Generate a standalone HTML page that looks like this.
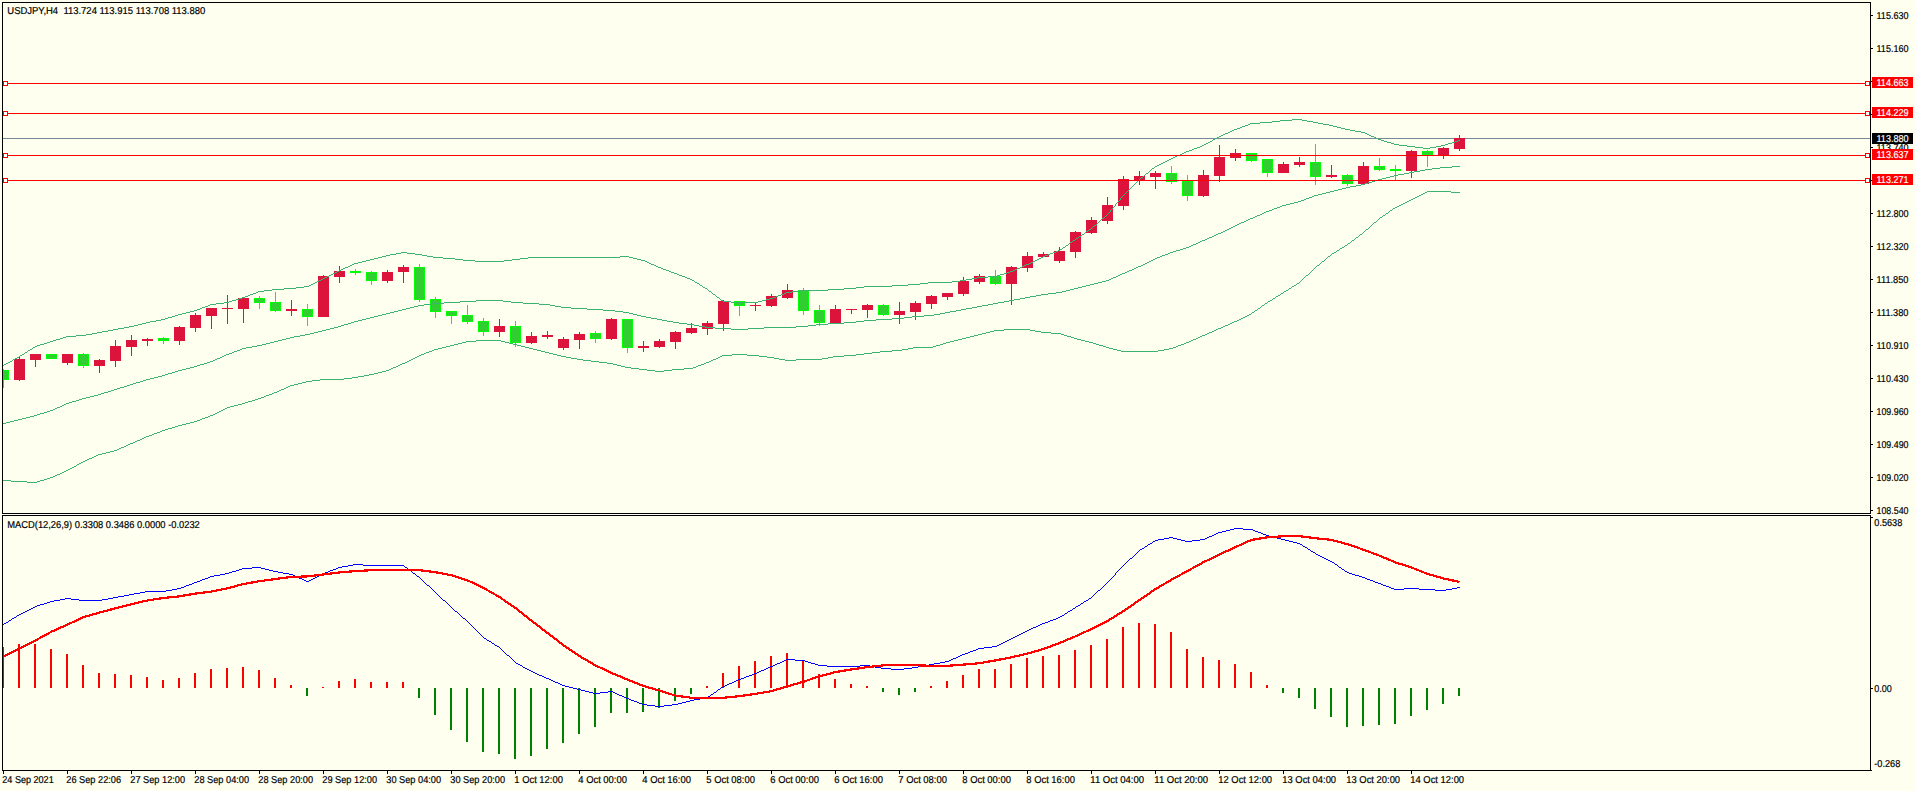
<!DOCTYPE html><html><head><meta charset="utf-8"><title>USDJPY,H4</title>
<style>html,body{margin:0;padding:0;background:#FFFFF0;overflow:hidden}body{width:1916px;height:791px;position:relative;font-family:"Liberation Sans",sans-serif}svg{position:absolute;left:0;top:0;display:block}text{font-family:"Liberation Sans",sans-serif;font-size:10px;fill:#000;text-rendering:geometricPrecision;stroke:#000;stroke-width:0.2px}.w{fill:#fff;stroke:#fff}</style></head><body>
<svg width="1916" height="791" viewBox="0 0 1916 791">
<rect width="1916" height="791" fill="#FFFFF0"/>
<g shape-rendering="crispEdges">
<rect x="3" y="138" width="1867" height="1" fill="#778899"/>
<g id="candles">
<rect x="3" y="369" width="1" height="19" fill="#00FF00"/>
<rect x="-2" y="370" width="11" height="10" fill="#00FF00"/>
<rect x="-1" y="371" width="9" height="8" fill="#32CD32"/>
<rect x="19" y="357" width="1" height="24" fill="#DC143C"/>
<rect x="14" y="359" width="11" height="21" fill="#DC143C"/>
<rect x="35" y="354" width="1" height="13" fill="#DC143C"/>
<rect x="30" y="354" width="11" height="6" fill="#DC143C"/>
<rect x="51" y="354" width="1" height="5" fill="#00FF00"/>
<rect x="46" y="354" width="11" height="5" fill="#00FF00"/>
<rect x="47" y="355" width="9" height="3" fill="#32CD32"/>
<rect x="67" y="354" width="1" height="11" fill="#DC143C"/>
<rect x="62" y="354" width="11" height="9" fill="#DC143C"/>
<rect x="83" y="353" width="1" height="15" fill="#00FF00"/>
<rect x="78" y="354" width="11" height="12" fill="#00FF00"/>
<rect x="79" y="355" width="9" height="10" fill="#32CD32"/>
<rect x="99" y="359" width="1" height="14" fill="#DC143C"/>
<rect x="94" y="360" width="11" height="6" fill="#DC143C"/>
<rect x="115" y="340" width="1" height="27" fill="#DC143C"/>
<rect x="110" y="346" width="11" height="15" fill="#DC143C"/>
<rect x="131" y="335" width="1" height="21" fill="#DC143C"/>
<rect x="126" y="340" width="11" height="7" fill="#DC143C"/>
<rect x="147" y="338" width="1" height="8" fill="#DC143C"/>
<rect x="142" y="339" width="11" height="2" fill="#DC143C"/>
<rect x="163" y="337" width="1" height="7" fill="#00FF00"/>
<rect x="158" y="338" width="11" height="3" fill="#00FF00"/>
<rect x="159" y="339" width="9" height="1" fill="#32CD32"/>
<rect x="179" y="326" width="1" height="19" fill="#DC143C"/>
<rect x="174" y="327" width="11" height="14" fill="#DC143C"/>
<rect x="195" y="313" width="1" height="19" fill="#DC143C"/>
<rect x="190" y="315" width="11" height="13" fill="#DC143C"/>
<rect x="211" y="308" width="1" height="21" fill="#DC143C"/>
<rect x="206" y="308" width="11" height="8" fill="#DC143C"/>
<rect x="227" y="295" width="1" height="29" fill="#DC143C"/>
<rect x="222" y="308" width="11" height="1" fill="#DC143C"/>
<rect x="243" y="298" width="1" height="25" fill="#DC143C"/>
<rect x="238" y="298" width="11" height="11" fill="#DC143C"/>
<rect x="259" y="296" width="1" height="13" fill="#00FF00"/>
<rect x="254" y="298" width="11" height="5" fill="#00FF00"/>
<rect x="255" y="299" width="9" height="3" fill="#32CD32"/>
<rect x="275" y="292" width="1" height="20" fill="#00FF00"/>
<rect x="270" y="302" width="11" height="9" fill="#00FF00"/>
<rect x="271" y="303" width="9" height="7" fill="#32CD32"/>
<rect x="291" y="300" width="1" height="16" fill="#DC143C"/>
<rect x="286" y="309" width="11" height="2" fill="#DC143C"/>
<rect x="307" y="304" width="1" height="22" fill="#00FF00"/>
<rect x="302" y="309" width="11" height="8" fill="#00FF00"/>
<rect x="303" y="310" width="9" height="6" fill="#32CD32"/>
<rect x="323" y="275" width="1" height="42" fill="#DC143C"/>
<rect x="318" y="276" width="11" height="41" fill="#DC143C"/>
<rect x="339" y="266" width="1" height="17" fill="#DC143C"/>
<rect x="334" y="271" width="11" height="6" fill="#DC143C"/>
<rect x="355" y="269" width="1" height="6" fill="#00FF00"/>
<rect x="350" y="271" width="11" height="2" fill="#00FF00"/>
<rect x="371" y="271" width="1" height="14" fill="#00FF00"/>
<rect x="366" y="272" width="11" height="9" fill="#00FF00"/>
<rect x="367" y="273" width="9" height="7" fill="#32CD32"/>
<rect x="387" y="270" width="1" height="13" fill="#DC143C"/>
<rect x="382" y="272" width="11" height="9" fill="#DC143C"/>
<rect x="403" y="265" width="1" height="18" fill="#DC143C"/>
<rect x="398" y="267" width="11" height="5" fill="#DC143C"/>
<rect x="419" y="264" width="1" height="38" fill="#00FF00"/>
<rect x="414" y="267" width="11" height="33" fill="#00FF00"/>
<rect x="415" y="268" width="9" height="31" fill="#32CD32"/>
<rect x="435" y="297" width="1" height="21" fill="#00FF00"/>
<rect x="430" y="299" width="11" height="13" fill="#00FF00"/>
<rect x="431" y="300" width="9" height="11" fill="#32CD32"/>
<rect x="451" y="311" width="1" height="13" fill="#00FF00"/>
<rect x="446" y="311" width="11" height="5" fill="#00FF00"/>
<rect x="447" y="312" width="9" height="3" fill="#32CD32"/>
<rect x="467" y="305" width="1" height="19" fill="#00FF00"/>
<rect x="462" y="315" width="11" height="7" fill="#00FF00"/>
<rect x="463" y="316" width="9" height="5" fill="#32CD32"/>
<rect x="483" y="318" width="1" height="18" fill="#00FF00"/>
<rect x="478" y="321" width="11" height="11" fill="#00FF00"/>
<rect x="479" y="322" width="9" height="9" fill="#32CD32"/>
<rect x="499" y="319" width="1" height="18" fill="#DC143C"/>
<rect x="494" y="326" width="11" height="6" fill="#DC143C"/>
<rect x="515" y="321" width="1" height="26" fill="#00FF00"/>
<rect x="510" y="326" width="11" height="17" fill="#00FF00"/>
<rect x="511" y="327" width="9" height="15" fill="#32CD32"/>
<rect x="531" y="332" width="1" height="12" fill="#DC143C"/>
<rect x="526" y="336" width="11" height="7" fill="#DC143C"/>
<rect x="547" y="331" width="1" height="8" fill="#DC143C"/>
<rect x="542" y="335" width="11" height="2" fill="#DC143C"/>
<rect x="563" y="337" width="1" height="13" fill="#DC143C"/>
<rect x="558" y="339" width="11" height="9" fill="#DC143C"/>
<rect x="579" y="332" width="1" height="17" fill="#DC143C"/>
<rect x="574" y="334" width="11" height="6" fill="#DC143C"/>
<rect x="595" y="331" width="1" height="12" fill="#00FF00"/>
<rect x="590" y="333" width="11" height="6" fill="#00FF00"/>
<rect x="591" y="334" width="9" height="4" fill="#32CD32"/>
<rect x="611" y="318" width="1" height="22" fill="#DC143C"/>
<rect x="606" y="319" width="11" height="20" fill="#DC143C"/>
<rect x="627" y="319" width="1" height="34" fill="#00FF00"/>
<rect x="622" y="319" width="11" height="29" fill="#00FF00"/>
<rect x="623" y="320" width="9" height="27" fill="#32CD32"/>
<rect x="643" y="341" width="1" height="11" fill="#DC143C"/>
<rect x="638" y="346" width="11" height="2" fill="#DC143C"/>
<rect x="659" y="339" width="1" height="9" fill="#DC143C"/>
<rect x="654" y="341" width="11" height="6" fill="#DC143C"/>
<rect x="675" y="331" width="1" height="18" fill="#DC143C"/>
<rect x="670" y="332" width="11" height="10" fill="#DC143C"/>
<rect x="691" y="323" width="1" height="11" fill="#DC143C"/>
<rect x="686" y="328" width="11" height="5" fill="#DC143C"/>
<rect x="707" y="321" width="1" height="14" fill="#DC143C"/>
<rect x="702" y="323" width="11" height="6" fill="#DC143C"/>
<rect x="723" y="300" width="1" height="31" fill="#DC143C"/>
<rect x="718" y="301" width="11" height="23" fill="#DC143C"/>
<rect x="739" y="301" width="1" height="15" fill="#00FF00"/>
<rect x="734" y="301" width="11" height="5" fill="#00FF00"/>
<rect x="735" y="302" width="9" height="3" fill="#32CD32"/>
<rect x="755" y="303" width="1" height="8" fill="#DC143C"/>
<rect x="750" y="305" width="11" height="1" fill="#DC143C"/>
<rect x="771" y="294" width="1" height="13" fill="#DC143C"/>
<rect x="766" y="296" width="11" height="10" fill="#DC143C"/>
<rect x="787" y="284" width="1" height="15" fill="#DC143C"/>
<rect x="782" y="290" width="11" height="8" fill="#DC143C"/>
<rect x="803" y="288" width="1" height="27" fill="#00FF00"/>
<rect x="798" y="290" width="11" height="21" fill="#00FF00"/>
<rect x="799" y="291" width="9" height="19" fill="#32CD32"/>
<rect x="819" y="305" width="1" height="21" fill="#00FF00"/>
<rect x="814" y="310" width="11" height="13" fill="#00FF00"/>
<rect x="815" y="311" width="9" height="11" fill="#32CD32"/>
<rect x="835" y="305" width="1" height="18" fill="#DC143C"/>
<rect x="830" y="309" width="11" height="14" fill="#DC143C"/>
<rect x="851" y="309" width="1" height="5" fill="#DC143C"/>
<rect x="846" y="309" width="11" height="1" fill="#DC143C"/>
<rect x="867" y="304" width="1" height="14" fill="#DC143C"/>
<rect x="862" y="305" width="11" height="5" fill="#DC143C"/>
<rect x="883" y="304" width="1" height="12" fill="#00FF00"/>
<rect x="878" y="305" width="11" height="10" fill="#00FF00"/>
<rect x="879" y="306" width="9" height="8" fill="#32CD32"/>
<rect x="899" y="302" width="1" height="22" fill="#DC143C"/>
<rect x="894" y="311" width="11" height="4" fill="#DC143C"/>
<rect x="915" y="301" width="1" height="19" fill="#DC143C"/>
<rect x="910" y="303" width="11" height="9" fill="#DC143C"/>
<rect x="931" y="295" width="1" height="14" fill="#DC143C"/>
<rect x="926" y="296" width="11" height="8" fill="#DC143C"/>
<rect x="947" y="293" width="1" height="7" fill="#DC143C"/>
<rect x="942" y="293" width="11" height="4" fill="#DC143C"/>
<rect x="963" y="277" width="1" height="19" fill="#DC143C"/>
<rect x="958" y="281" width="11" height="13" fill="#DC143C"/>
<rect x="979" y="274" width="1" height="10" fill="#DC143C"/>
<rect x="974" y="276" width="11" height="6" fill="#DC143C"/>
<rect x="995" y="270" width="1" height="15" fill="#00FF00"/>
<rect x="990" y="276" width="11" height="8" fill="#00FF00"/>
<rect x="991" y="277" width="9" height="6" fill="#32CD32"/>
<rect x="1011" y="266" width="1" height="39" fill="#DC143C"/>
<rect x="1006" y="267" width="11" height="17" fill="#DC143C"/>
<rect x="1027" y="252" width="1" height="20" fill="#DC143C"/>
<rect x="1022" y="256" width="11" height="12" fill="#DC143C"/>
<rect x="1043" y="252" width="1" height="5" fill="#DC143C"/>
<rect x="1038" y="254" width="11" height="3" fill="#DC143C"/>
<rect x="1059" y="247" width="1" height="16" fill="#DC143C"/>
<rect x="1054" y="251" width="11" height="10" fill="#DC143C"/>
<rect x="1075" y="231" width="1" height="27" fill="#DC143C"/>
<rect x="1070" y="232" width="11" height="20" fill="#DC143C"/>
<rect x="1091" y="217" width="1" height="17" fill="#DC143C"/>
<rect x="1086" y="220" width="11" height="13" fill="#DC143C"/>
<rect x="1107" y="197" width="1" height="27" fill="#DC143C"/>
<rect x="1102" y="205" width="11" height="16" fill="#DC143C"/>
<rect x="1123" y="176" width="1" height="34" fill="#DC143C"/>
<rect x="1118" y="179" width="11" height="27" fill="#DC143C"/>
<rect x="1139" y="171" width="1" height="14" fill="#DC143C"/>
<rect x="1134" y="176" width="11" height="5" fill="#DC143C"/>
<rect x="1155" y="171" width="1" height="18" fill="#DC143C"/>
<rect x="1150" y="173" width="11" height="4" fill="#DC143C"/>
<rect x="1171" y="166" width="1" height="18" fill="#00FF00"/>
<rect x="1166" y="173" width="11" height="9" fill="#00FF00"/>
<rect x="1167" y="174" width="9" height="7" fill="#32CD32"/>
<rect x="1187" y="175" width="1" height="26" fill="#00FF00"/>
<rect x="1182" y="181" width="11" height="15" fill="#00FF00"/>
<rect x="1183" y="182" width="9" height="13" fill="#32CD32"/>
<rect x="1203" y="170" width="1" height="27" fill="#DC143C"/>
<rect x="1198" y="175" width="11" height="21" fill="#DC143C"/>
<rect x="1219" y="145" width="1" height="37" fill="#DC143C"/>
<rect x="1214" y="157" width="11" height="19" fill="#DC143C"/>
<rect x="1235" y="149" width="1" height="12" fill="#DC143C"/>
<rect x="1230" y="153" width="11" height="5" fill="#DC143C"/>
<rect x="1251" y="153" width="1" height="9" fill="#00FF00"/>
<rect x="1246" y="153" width="11" height="8" fill="#00FF00"/>
<rect x="1247" y="154" width="9" height="6" fill="#32CD32"/>
<rect x="1267" y="159" width="1" height="18" fill="#00FF00"/>
<rect x="1262" y="159" width="11" height="14" fill="#00FF00"/>
<rect x="1263" y="160" width="9" height="12" fill="#32CD32"/>
<rect x="1283" y="162" width="1" height="11" fill="#DC143C"/>
<rect x="1278" y="164" width="11" height="9" fill="#DC143C"/>
<rect x="1299" y="157" width="1" height="10" fill="#DC143C"/>
<rect x="1294" y="162" width="11" height="3" fill="#DC143C"/>
<rect x="1315" y="144" width="1" height="41" fill="#00FF00"/>
<rect x="1310" y="162" width="11" height="15" fill="#00FF00"/>
<rect x="1311" y="163" width="9" height="13" fill="#32CD32"/>
<rect x="1331" y="165" width="1" height="13" fill="#DC143C"/>
<rect x="1326" y="175" width="11" height="2" fill="#DC143C"/>
<rect x="1347" y="174" width="1" height="12" fill="#00FF00"/>
<rect x="1342" y="175" width="11" height="9" fill="#00FF00"/>
<rect x="1343" y="176" width="9" height="7" fill="#32CD32"/>
<rect x="1363" y="162" width="1" height="22" fill="#DC143C"/>
<rect x="1358" y="166" width="11" height="18" fill="#DC143C"/>
<rect x="1379" y="158" width="1" height="13" fill="#00FF00"/>
<rect x="1374" y="166" width="11" height="4" fill="#00FF00"/>
<rect x="1375" y="167" width="9" height="2" fill="#32CD32"/>
<rect x="1395" y="165" width="1" height="15" fill="#00FF00"/>
<rect x="1390" y="169" width="11" height="2" fill="#00FF00"/>
<rect x="1411" y="150" width="1" height="28" fill="#DC143C"/>
<rect x="1406" y="151" width="11" height="20" fill="#DC143C"/>
<rect x="1427" y="150" width="1" height="17" fill="#00FF00"/>
<rect x="1422" y="151" width="11" height="4" fill="#00FF00"/>
<rect x="1423" y="152" width="9" height="2" fill="#32CD32"/>
<rect x="1443" y="147" width="1" height="12" fill="#DC143C"/>
<rect x="1438" y="148" width="11" height="7" fill="#DC143C"/>
<rect x="1459" y="135" width="1" height="16" fill="#DC143C"/>
<rect x="1454" y="138" width="11" height="11" fill="#DC143C"/>
</g>
<g id="bands">
<path d="M1292 119h10v1h-10zM1280 120h12v1h-12zM1302 120h5v1h-5zM1272 121h8v1h-8zM1307 121h6v1h-6zM1260 122h12v1h-12zM1313 122h5v1h-5zM1250 123h10v1h-10zM1318 123h5v1h-5zM1248 124h2v1h-2zM1323 124h6v1h-6zM1245 125h3v1h-3zM1329 125h4v1h-4zM1242 126h3v1h-3zM1333 126h4v1h-4zM1240 127h2v1h-2zM1337 127h4v1h-4zM1237 128h3v1h-3zM1341 128h4v1h-4zM1234 129h3v1h-3zM1345 129h5v1h-5zM1232 130h2v1h-2zM1350 130h5v1h-5zM1230 131h2v1h-2zM1355 131h6v1h-6zM1228 132h2v1h-2zM1361 132h4v1h-4zM1225 133h3v1h-3zM1365 133h2v1h-2zM1223 134h2v1h-2zM1367 134h2v1h-2zM1221 135h2v1h-2zM1369 135h2v1h-2zM1219 136h2v1h-2zM1371 136h3v1h-3zM1217 137h2v1h-2zM1374 137h2v1h-2zM1215 138h2v1h-2zM1376 138h2v1h-2zM1213 139h2v1h-2zM1378 139h3v1h-3zM1212 140h1v1h-1zM1381 140h3v1h-3zM1458 140h2v1h-2zM1210 141h2v1h-2zM1384 141h3v1h-3zM1455 141h3v1h-3zM1208 142h2v1h-2zM1387 142h4v1h-4zM1452 142h3v1h-3zM1206 143h2v1h-2zM1391 143h3v1h-3zM1448 143h4v1h-4zM1204 144h2v1h-2zM1394 144h5v1h-5zM1445 144h3v1h-3zM1202 145h2v1h-2zM1399 145h8v1h-8zM1441 145h4v1h-4zM1200 146h2v1h-2zM1407 146h8v1h-8zM1436 146h5v1h-5zM1197 147h3v1h-3zM1415 147h8v1h-8zM1430 147h6v1h-6zM1194 148h3v1h-3zM1423 148h7v1h-7zM1192 149h2v1h-2zM1189 150h3v1h-3zM1186 151h3v1h-3zM1184 152h2v1h-2zM1182 153h2v1h-2zM1180 154h2v1h-2zM1177 155h3v1h-3zM1175 156h2v1h-2zM1173 157h2v1h-2zM1171 158h2v1h-2zM1169 159h2v1h-2zM1167 160h2v1h-2zM1165 161h2v1h-2zM1163 162h2v1h-2zM1161 163h2v1h-2zM1159 164h2v1h-2zM1157 165h2v1h-2zM1155 166h2v1h-2zM1154 167h1v1h-1zM1152 168h2v1h-2zM1151 169h1v1h-1zM1150 170h1v1h-1zM1149 171h1v1h-1zM1148 172h1v1h-1zM1146 173h2v1h-2zM1145 174h1v1h-1zM1144 175h1v1h-1zM1143 176h1v1h-1zM1141 177h2v1h-2zM1140 178h1v1h-1zM1139 179h1v1h-1zM1138 180h1v1h-1zM1137 181h1v1h-1zM1136 182h1v1h-1zM1135 183h1v1h-1zM1134 184h1v1h-1zM1133 185h1v1h-1zM1132 186h1v1h-1zM1131 187h1v1h-1zM1130 188h1v1h-1zM1129 189h1v1h-1zM1128 190h1v1h-1zM1127 191h1v1h-1zM1126 192h1v1h-1zM1125 193h1v1h-1zM1124 194h1v1h-1zM1123 195h1v1h-1zM1122 196h1v1h-1zM1121 197h1v1h-1zM1120 198h1v1h-1zM1120 199h1v1h-1zM1119 200h1v1h-1zM1118 201h1v1h-1zM1117 202h1v1h-1zM1116 203h1v1h-1zM1115 204h1v1h-1zM1115 205h1v1h-1zM1114 206h1v1h-1zM1113 207h1v1h-1zM1112 208h1v1h-1zM1111 209h1v1h-1zM1110 210h1v1h-1zM1110 211h1v1h-1zM1109 212h1v1h-1zM1108 213h1v1h-1zM1107 214h1v1h-1zM1106 215h1v1h-1zM1105 216h1v1h-1zM1104 217h1v1h-1zM1102 218h2v1h-2zM1101 219h1v1h-1zM1100 220h1v1h-1zM1099 221h1v1h-1zM1098 222h1v1h-1zM1097 223h1v1h-1zM1096 224h1v1h-1zM1094 225h2v1h-2zM1093 226h1v1h-1zM1092 227h1v1h-1zM1091 228h1v1h-1zM1089 229h2v1h-2zM1088 230h1v1h-1zM1086 231h2v1h-2zM1085 232h1v1h-1zM1084 233h1v1h-1zM1082 234h2v1h-2zM1081 235h1v1h-1zM1079 236h2v1h-2zM1078 237h1v1h-1zM1076 238h2v1h-2zM1075 239h1v1h-1zM1073 240h2v1h-2zM1072 241h1v1h-1zM1070 242h2v1h-2zM1069 243h1v1h-1zM1068 244h1v1h-1zM1066 245h2v1h-2zM1065 246h1v1h-1zM1063 247h2v1h-2zM1062 248h1v1h-1zM1060 249h2v1h-2zM1058 250h2v1h-2zM1056 251h2v1h-2zM401 252h6v1h-6zM1053 252h3v1h-3zM396 253h5v1h-5zM407 253h8v1h-8zM1050 253h3v1h-3zM390 254h6v1h-6zM415 254h7v1h-7zM1048 254h2v1h-2zM386 255h4v1h-4zM422 255h5v1h-5zM1045 255h3v1h-3zM382 256h4v1h-4zM427 256h6v1h-6zM620 256h9v1h-9zM1043 256h2v1h-2zM378 257h4v1h-4zM433 257h10v1h-10zM528 257h92v1h-92zM629 257h4v1h-4zM1041 257h2v1h-2zM374 258h4v1h-4zM443 258h12v1h-12zM520 258h8v1h-8zM633 258h4v1h-4zM1039 258h2v1h-2zM370 259h4v1h-4zM455 259h8v1h-8zM512 259h8v1h-8zM637 259h4v1h-4zM1037 259h2v1h-2zM366 260h4v1h-4zM463 260h12v1h-12zM504 260h8v1h-8zM641 260h4v1h-4zM1035 260h2v1h-2zM362 261h4v1h-4zM475 261h29v1h-29zM645 261h2v1h-2zM1033 261h2v1h-2zM358 262h4v1h-4zM647 262h2v1h-2zM1031 262h2v1h-2zM354 263h4v1h-4zM649 263h2v1h-2zM1029 263h2v1h-2zM352 264h2v1h-2zM651 264h3v1h-3zM1026 264h3v1h-3zM350 265h2v1h-2zM654 265h2v1h-2zM1024 265h2v1h-2zM348 266h2v1h-2zM656 266h2v1h-2zM1022 266h2v1h-2zM345 267h3v1h-3zM658 267h3v1h-3zM1020 267h2v1h-2zM343 268h2v1h-2zM661 268h2v1h-2zM1017 268h3v1h-3zM341 269h2v1h-2zM663 269h3v1h-3zM1015 269h2v1h-2zM339 270h2v1h-2zM666 270h3v1h-3zM1013 270h2v1h-2zM337 271h2v1h-2zM669 271h2v1h-2zM1010 271h3v1h-3zM335 272h2v1h-2zM671 272h3v1h-3zM1007 272h3v1h-3zM333 273h2v1h-2zM674 273h3v1h-3zM1004 273h3v1h-3zM331 274h2v1h-2zM677 274h2v1h-2zM1000 274h4v1h-4zM329 275h2v1h-2zM679 275h3v1h-3zM997 275h3v1h-3zM327 276h2v1h-2zM682 276h3v1h-3zM988 276h9v1h-9zM325 277h2v1h-2zM685 277h2v1h-2zM977 277h11v1h-11zM323 278h2v1h-2zM687 278h3v1h-3zM972 278h5v1h-5zM321 279h2v1h-2zM690 279h2v1h-2zM966 279h6v1h-6zM319 280h2v1h-2zM692 280h2v1h-2zM960 280h6v1h-6zM317 281h2v1h-2zM694 281h1v1h-1zM952 281h8v1h-8zM315 282h2v1h-2zM695 282h2v1h-2zM928 282h24v1h-24zM313 283h2v1h-2zM697 283h2v1h-2zM920 283h8v1h-8zM311 284h2v1h-2zM699 284h1v1h-1zM908 284h12v1h-12zM309 285h2v1h-2zM700 285h2v1h-2zM892 285h16v1h-16zM304 286h5v1h-5zM702 286h1v1h-1zM864 286h28v1h-28zM296 287h8v1h-8zM703 287h2v1h-2zM856 287h8v1h-8zM284 288h12v1h-12zM705 288h2v1h-2zM844 288h12v1h-12zM272 289h12v1h-12zM707 289h1v1h-1zM828 289h16v1h-16zM264 290h8v1h-8zM708 290h1v1h-1zM800 290h28v1h-28zM258 291h6v1h-6zM709 291h2v1h-2zM792 291h8v1h-8zM256 292h2v1h-2zM711 292h1v1h-1zM786 292h6v1h-6zM253 293h3v1h-3zM712 293h1v1h-1zM784 293h2v1h-2zM250 294h3v1h-3zM713 294h2v1h-2zM781 294h3v1h-3zM248 295h2v1h-2zM715 295h1v1h-1zM778 295h3v1h-3zM245 296h3v1h-3zM716 296h1v1h-1zM776 296h2v1h-2zM242 297h3v1h-3zM717 297h2v1h-2zM773 297h3v1h-3zM239 298h3v1h-3zM719 298h1v1h-1zM770 298h3v1h-3zM236 299h3v1h-3zM720 299h1v1h-1zM766 299h4v1h-4zM232 300h4v1h-4zM721 300h2v1h-2zM762 300h4v1h-4zM229 301h3v1h-3zM723 301h8v1h-8zM758 301h4v1h-4zM224 302h5v1h-5zM731 302h27v1h-27zM216 303h8v1h-8zM210 304h6v1h-6zM208 305h2v1h-2zM205 306h3v1h-3zM202 307h3v1h-3zM200 308h2v1h-2zM197 309h3v1h-3zM194 310h3v1h-3zM190 311h4v1h-4zM186 312h4v1h-4zM182 313h4v1h-4zM178 314h4v1h-4zM175 315h3v1h-3zM172 316h3v1h-3zM168 317h4v1h-4zM165 318h3v1h-3zM161 319h4v1h-4zM156 320h5v1h-5zM150 321h6v1h-6zM146 322h4v1h-4zM142 323h4v1h-4zM138 324h4v1h-4zM134 325h4v1h-4zM129 326h5v1h-5zM124 327h5v1h-5zM118 328h6v1h-6zM113 329h5v1h-5zM108 330h5v1h-5zM102 331h6v1h-6zM97 332h5v1h-5zM92 333h5v1h-5zM86 334h6v1h-6zM76 335h10v1h-10zM66 336h10v1h-10zM63 337h3v1h-3zM60 338h3v1h-3zM56 339h4v1h-4zM53 340h3v1h-3zM50 341h3v1h-3zM47 342h3v1h-3zM44 343h3v1h-3zM40 344h4v1h-4zM37 345h3v1h-3zM35 346h2v1h-2zM33 347h2v1h-2zM32 348h1v1h-1zM30 349h2v1h-2zM28 350h2v1h-2zM27 351h1v1h-1zM25 352h2v1h-2zM24 353h1v1h-1zM22 354h2v1h-2zM20 355h2v1h-2zM19 356h1v1h-1zM17 357h2v1h-2zM15 358h2v1h-2zM13 359h2v1h-2zM12 360h1v1h-1zM10 361h2v1h-2zM8 362h2v1h-2zM6 363h2v1h-2zM4 364h2v1h-2zM3 365h1v1h-1z" fill="#3CB371"/>
<path d="M1452 166h8v1h-8zM1440 167h12v1h-12zM1432 168h8v1h-8zM1425 169h7v1h-7zM1420 170h5v1h-5zM1414 171h6v1h-6zM1409 172h5v1h-5zM1404 173h5v1h-5zM1398 174h6v1h-6zM1394 175h4v1h-4zM1390 176h4v1h-4zM1386 177h4v1h-4zM1382 178h4v1h-4zM1378 179h4v1h-4zM1375 180h3v1h-3zM1372 181h3v1h-3zM1368 182h4v1h-4zM1365 183h3v1h-3zM1361 184h4v1h-4zM1356 185h5v1h-5zM1350 186h6v1h-6zM1346 187h4v1h-4zM1342 188h4v1h-4zM1338 189h4v1h-4zM1334 190h4v1h-4zM1330 191h4v1h-4zM1326 192h4v1h-4zM1322 193h4v1h-4zM1318 194h4v1h-4zM1314 195h4v1h-4zM1312 196h2v1h-2zM1309 197h3v1h-3zM1306 198h3v1h-3zM1304 199h2v1h-2zM1301 200h3v1h-3zM1298 201h3v1h-3zM1294 202h4v1h-4zM1290 203h4v1h-4zM1286 204h4v1h-4zM1282 205h4v1h-4zM1280 206h2v1h-2zM1277 207h3v1h-3zM1274 208h3v1h-3zM1272 209h2v1h-2zM1269 210h3v1h-3zM1266 211h3v1h-3zM1264 212h2v1h-2zM1262 213h2v1h-2zM1260 214h2v1h-2zM1257 215h3v1h-3zM1255 216h2v1h-2zM1253 217h2v1h-2zM1250 218h3v1h-3zM1248 219h2v1h-2zM1246 220h2v1h-2zM1244 221h2v1h-2zM1241 222h3v1h-3zM1239 223h2v1h-2zM1237 224h2v1h-2zM1235 225h2v1h-2zM1233 226h2v1h-2zM1231 227h2v1h-2zM1229 228h2v1h-2zM1227 229h2v1h-2zM1225 230h2v1h-2zM1223 231h2v1h-2zM1221 232h2v1h-2zM1218 233h3v1h-3zM1216 234h2v1h-2zM1214 235h2v1h-2zM1212 236h2v1h-2zM1209 237h3v1h-3zM1207 238h2v1h-2zM1205 239h2v1h-2zM1202 240h3v1h-3zM1200 241h2v1h-2zM1198 242h2v1h-2zM1196 243h2v1h-2zM1193 244h3v1h-3zM1191 245h2v1h-2zM1189 246h2v1h-2zM1186 247h3v1h-3zM1183 248h3v1h-3zM1180 249h3v1h-3zM1176 250h4v1h-4zM1173 251h3v1h-3zM1170 252h3v1h-3zM1168 253h2v1h-2zM1165 254h3v1h-3zM1162 255h3v1h-3zM1160 256h2v1h-2zM1157 257h3v1h-3zM1155 258h2v1h-2zM1153 259h2v1h-2zM1151 260h2v1h-2zM1149 261h2v1h-2zM1147 262h2v1h-2zM1145 263h2v1h-2zM1143 264h2v1h-2zM1141 265h2v1h-2zM1138 266h3v1h-3zM1136 267h2v1h-2zM1134 268h2v1h-2zM1132 269h2v1h-2zM1129 270h3v1h-3zM1127 271h2v1h-2zM1125 272h2v1h-2zM1122 273h3v1h-3zM1120 274h2v1h-2zM1118 275h2v1h-2zM1116 276h2v1h-2zM1113 277h3v1h-3zM1111 278h2v1h-2zM1109 279h2v1h-2zM1106 280h3v1h-3zM1102 281h4v1h-4zM1098 282h4v1h-4zM1094 283h4v1h-4zM1090 284h4v1h-4zM1086 285h4v1h-4zM1082 286h4v1h-4zM1078 287h4v1h-4zM1074 288h4v1h-4zM1070 289h4v1h-4zM1066 290h4v1h-4zM1062 291h4v1h-4zM1056 292h6v1h-6zM1048 293h8v1h-8zM1041 294h7v1h-7zM1036 295h5v1h-5zM1030 296h6v1h-6zM1025 297h5v1h-5zM1020 298h5v1h-5zM1014 299h6v1h-6zM476 300h27v1h-27zM1009 300h5v1h-5zM460 301h16v1h-16zM503 301h8v1h-8zM1004 301h5v1h-5zM444 302h16v1h-16zM511 302h12v1h-12zM998 302h6v1h-6zM432 303h12v1h-12zM523 303h16v1h-16zM993 303h5v1h-5zM424 304h8v1h-8zM539 304h11v1h-11zM988 304h5v1h-5zM418 305h6v1h-6zM550 305h5v1h-5zM982 305h6v1h-6zM414 306h4v1h-4zM555 306h6v1h-6zM977 306h5v1h-5zM410 307h4v1h-4zM561 307h10v1h-10zM972 307h5v1h-5zM406 308h4v1h-4zM571 308h16v1h-16zM966 308h6v1h-6zM402 309h4v1h-4zM587 309h16v1h-16zM961 309h5v1h-5zM398 310h4v1h-4zM603 310h12v1h-12zM956 310h5v1h-5zM394 311h4v1h-4zM615 311h8v1h-8zM950 311h6v1h-6zM390 312h4v1h-4zM623 312h6v1h-6zM945 312h5v1h-5zM386 313h4v1h-4zM629 313h4v1h-4zM940 313h5v1h-5zM382 314h4v1h-4zM633 314h4v1h-4zM934 314h6v1h-6zM378 315h4v1h-4zM637 315h4v1h-4zM924 315h10v1h-10zM374 316h4v1h-4zM641 316h5v1h-5zM912 316h12v1h-12zM370 317h4v1h-4zM646 317h5v1h-5zM904 317h8v1h-8zM366 318h4v1h-4zM651 318h6v1h-6zM892 318h12v1h-12zM362 319h4v1h-4zM657 319h5v1h-5zM876 319h16v1h-16zM358 320h4v1h-4zM662 320h5v1h-5zM864 320h12v1h-12zM354 321h4v1h-4zM667 321h6v1h-6zM856 321h8v1h-8zM351 322h3v1h-3zM673 322h6v1h-6zM844 322h12v1h-12zM348 323h3v1h-3zM679 323h8v1h-8zM828 323h16v1h-16zM344 324h4v1h-4zM687 324h7v1h-7zM816 324h12v1h-12zM341 325h3v1h-3zM694 325h5v1h-5zM808 325h8v1h-8zM338 326h3v1h-3zM699 326h6v1h-6zM796 326h12v1h-12zM334 327h4v1h-4zM705 327h10v1h-10zM764 327h32v1h-32zM330 328h4v1h-4zM715 328h16v1h-16zM748 328h16v1h-16zM326 329h4v1h-4zM731 329h17v1h-17zM322 330h4v1h-4zM318 331h4v1h-4zM314 332h4v1h-4zM310 333h4v1h-4zM305 334h5v1h-5zM300 335h5v1h-5zM294 336h6v1h-6zM290 337h4v1h-4zM286 338h4v1h-4zM282 339h4v1h-4zM278 340h4v1h-4zM274 341h4v1h-4zM270 342h4v1h-4zM266 343h4v1h-4zM262 344h4v1h-4zM257 345h5v1h-5zM252 346h5v1h-5zM246 347h6v1h-6zM242 348h4v1h-4zM240 349h2v1h-2zM237 350h3v1h-3zM234 351h3v1h-3zM232 352h2v1h-2zM229 353h3v1h-3zM226 354h3v1h-3zM224 355h2v1h-2zM222 356h2v1h-2zM220 357h2v1h-2zM217 358h3v1h-3zM215 359h2v1h-2zM213 360h2v1h-2zM210 361h3v1h-3zM207 362h3v1h-3zM204 363h3v1h-3zM200 364h4v1h-4zM197 365h3v1h-3zM194 366h3v1h-3zM190 367h4v1h-4zM186 368h4v1h-4zM182 369h4v1h-4zM178 370h4v1h-4zM175 371h3v1h-3zM172 372h3v1h-3zM168 373h4v1h-4zM165 374h3v1h-3zM162 375h3v1h-3zM158 376h4v1h-4zM154 377h4v1h-4zM150 378h4v1h-4zM146 379h4v1h-4zM143 380h3v1h-3zM140 381h3v1h-3zM136 382h4v1h-4zM133 383h3v1h-3zM130 384h3v1h-3zM127 385h3v1h-3zM124 386h3v1h-3zM120 387h4v1h-4zM117 388h3v1h-3zM114 389h3v1h-3zM111 390h3v1h-3zM108 391h3v1h-3zM104 392h4v1h-4zM101 393h3v1h-3zM98 394h3v1h-3zM94 395h4v1h-4zM90 396h4v1h-4zM86 397h4v1h-4zM82 398h4v1h-4zM79 399h3v1h-3zM76 400h3v1h-3zM72 401h4v1h-4zM69 402h3v1h-3zM66 403h3v1h-3zM64 404h2v1h-2zM62 405h2v1h-2zM60 406h2v1h-2zM57 407h3v1h-3zM55 408h2v1h-2zM53 409h2v1h-2zM50 410h3v1h-3zM47 411h3v1h-3zM44 412h3v1h-3zM40 413h4v1h-4zM37 414h3v1h-3zM34 415h3v1h-3zM30 416h4v1h-4zM26 417h4v1h-4zM22 418h4v1h-4zM18 419h4v1h-4zM14 420h4v1h-4zM10 421h4v1h-4zM6 422h4v1h-4zM3 423h3v1h-3z" fill="#3CB371"/>
<path d="M1427 191h24v1h-24zM1425 192h2v1h-2zM1451 192h9v1h-9zM1423 193h2v1h-2zM1421 194h2v1h-2zM1419 195h2v1h-2zM1417 196h2v1h-2zM1415 197h2v1h-2zM1413 198h2v1h-2zM1411 199h2v1h-2zM1409 200h2v1h-2zM1407 201h2v1h-2zM1405 202h2v1h-2zM1403 203h2v1h-2zM1401 204h2v1h-2zM1399 205h2v1h-2zM1397 206h2v1h-2zM1395 207h2v1h-2zM1393 208h2v1h-2zM1392 209h1v1h-1zM1390 210h2v1h-2zM1389 211h1v1h-1zM1388 212h1v1h-1zM1386 213h2v1h-2zM1385 214h1v1h-1zM1383 215h2v1h-2zM1382 216h1v1h-1zM1380 217h2v1h-2zM1379 218h1v1h-1zM1378 219h1v1h-1zM1377 220h1v1h-1zM1376 221h1v1h-1zM1374 222h2v1h-2zM1373 223h1v1h-1zM1372 224h1v1h-1zM1371 225h1v1h-1zM1370 226h1v1h-1zM1369 227h1v1h-1zM1368 228h1v1h-1zM1366 229h2v1h-2zM1365 230h1v1h-1zM1364 231h1v1h-1zM1363 232h1v1h-1zM1362 233h1v1h-1zM1360 234h2v1h-2zM1359 235h1v1h-1zM1358 236h1v1h-1zM1356 237h2v1h-2zM1355 238h1v1h-1zM1354 239h1v1h-1zM1352 240h2v1h-2zM1351 241h1v1h-1zM1350 242h1v1h-1zM1348 243h2v1h-2zM1347 244h1v1h-1zM1345 245h2v1h-2zM1344 246h1v1h-1zM1342 247h2v1h-2zM1340 248h2v1h-2zM1339 249h1v1h-1zM1337 250h2v1h-2zM1336 251h1v1h-1zM1334 252h2v1h-2zM1332 253h2v1h-2zM1331 254h1v1h-1zM1330 255h1v1h-1zM1328 256h2v1h-2zM1327 257h1v1h-1zM1326 258h1v1h-1zM1325 259h1v1h-1zM1324 260h1v1h-1zM1322 261h2v1h-2zM1321 262h1v1h-1zM1320 263h1v1h-1zM1319 264h1v1h-1zM1317 265h2v1h-2zM1316 266h1v1h-1zM1315 267h1v1h-1zM1314 268h1v1h-1zM1313 269h1v1h-1zM1312 270h1v1h-1zM1311 271h1v1h-1zM1310 272h1v1h-1zM1309 273h1v1h-1zM1308 274h1v1h-1zM1306 275h2v1h-2zM1305 276h1v1h-1zM1304 277h1v1h-1zM1303 278h1v1h-1zM1302 279h1v1h-1zM1301 280h1v1h-1zM1300 281h1v1h-1zM1299 282h1v1h-1zM1297 283h2v1h-2zM1296 284h1v1h-1zM1294 285h2v1h-2zM1292 286h2v1h-2zM1291 287h1v1h-1zM1289 288h2v1h-2zM1288 289h1v1h-1zM1286 290h2v1h-2zM1284 291h2v1h-2zM1283 292h1v1h-1zM1281 293h2v1h-2zM1280 294h1v1h-1zM1278 295h2v1h-2zM1276 296h2v1h-2zM1275 297h1v1h-1zM1273 298h2v1h-2zM1272 299h1v1h-1zM1270 300h2v1h-2zM1268 301h2v1h-2zM1267 302h1v1h-1zM1265 303h2v1h-2zM1264 304h1v1h-1zM1262 305h2v1h-2zM1261 306h1v1h-1zM1260 307h1v1h-1zM1258 308h2v1h-2zM1257 309h1v1h-1zM1255 310h2v1h-2zM1254 311h1v1h-1zM1252 312h2v1h-2zM1251 313h1v1h-1zM1249 314h2v1h-2zM1247 315h2v1h-2zM1245 316h2v1h-2zM1243 317h2v1h-2zM1241 318h2v1h-2zM1239 319h2v1h-2zM1237 320h2v1h-2zM1234 321h3v1h-3zM1232 322h2v1h-2zM1230 323h2v1h-2zM1228 324h2v1h-2zM1225 325h3v1h-3zM1223 326h2v1h-2zM1221 327h2v1h-2zM1218 328h3v1h-3zM1004 329h26v1h-26zM1216 329h2v1h-2zM994 330h10v1h-10zM1030 330h5v1h-5zM1214 330h2v1h-2zM990 331h4v1h-4zM1035 331h6v1h-6zM1212 331h2v1h-2zM986 332h4v1h-4zM1041 332h10v1h-10zM1209 332h3v1h-3zM982 333h4v1h-4zM1051 333h10v1h-10zM1207 333h2v1h-2zM978 334h4v1h-4zM1061 334h3v1h-3zM1205 334h2v1h-2zM974 335h4v1h-4zM1064 335h3v1h-3zM1202 335h3v1h-3zM970 336h4v1h-4zM1067 336h4v1h-4zM1200 336h2v1h-2zM966 337h4v1h-4zM1071 337h3v1h-3zM1198 337h2v1h-2zM962 338h4v1h-4zM1074 338h3v1h-3zM1196 338h2v1h-2zM958 339h4v1h-4zM1077 339h4v1h-4zM1193 339h3v1h-3zM476 340h25v1h-25zM954 340h4v1h-4zM1081 340h4v1h-4zM1191 340h2v1h-2zM466 341h10v1h-10zM501 341h4v1h-4zM950 341h4v1h-4zM1085 341h4v1h-4zM1189 341h2v1h-2zM462 342h4v1h-4zM505 342h4v1h-4zM946 342h4v1h-4zM1089 342h4v1h-4zM1186 342h3v1h-3zM458 343h4v1h-4zM509 343h4v1h-4zM943 343h3v1h-3zM1093 343h3v1h-3zM1184 343h2v1h-2zM454 344h4v1h-4zM513 344h4v1h-4zM940 344h3v1h-3zM1096 344h3v1h-3zM1181 344h3v1h-3zM450 345h4v1h-4zM517 345h4v1h-4zM936 345h4v1h-4zM1099 345h4v1h-4zM1178 345h3v1h-3zM446 346h4v1h-4zM521 346h4v1h-4zM933 346h3v1h-3zM1103 346h3v1h-3zM1176 346h2v1h-2zM442 347h4v1h-4zM525 347h4v1h-4zM913 347h20v1h-20zM1106 347h3v1h-3zM1173 347h3v1h-3zM438 348h4v1h-4zM529 348h4v1h-4zM908 348h5v1h-5zM1109 348h4v1h-4zM1169 348h4v1h-4zM434 349h4v1h-4zM533 349h4v1h-4zM902 349h6v1h-6zM1113 349h4v1h-4zM1164 349h5v1h-5zM432 350h2v1h-2zM537 350h4v1h-4zM892 350h10v1h-10zM1117 350h4v1h-4zM1158 350h6v1h-6zM429 351h3v1h-3zM541 351h4v1h-4zM880 351h12v1h-12zM1121 351h37v1h-37zM426 352h3v1h-3zM545 352h4v1h-4zM872 352h8v1h-8zM424 353h2v1h-2zM549 353h4v1h-4zM864 353h8v1h-8zM421 354h3v1h-3zM553 354h4v1h-4zM732 354h15v1h-15zM856 354h8v1h-8zM419 355h2v1h-2zM557 355h4v1h-4zM722 355h10v1h-10zM747 355h12v1h-12zM844 355h12v1h-12zM417 356h2v1h-2zM561 356h5v1h-5zM720 356h2v1h-2zM759 356h8v1h-8zM833 356h11v1h-11zM415 357h2v1h-2zM566 357h5v1h-5zM718 357h2v1h-2zM767 357h7v1h-7zM828 357h5v1h-5zM413 358h2v1h-2zM571 358h6v1h-6zM716 358h2v1h-2zM774 358h5v1h-5zM822 358h6v1h-6zM411 359h2v1h-2zM577 359h6v1h-6zM713 359h3v1h-3zM779 359h6v1h-6zM796 359h26v1h-26zM409 360h2v1h-2zM583 360h8v1h-8zM711 360h2v1h-2zM785 360h11v1h-11zM407 361h2v1h-2zM591 361h8v1h-8zM709 361h2v1h-2zM405 362h2v1h-2zM599 362h8v1h-8zM706 362h3v1h-3zM402 363h3v1h-3zM607 363h6v1h-6zM704 363h2v1h-2zM400 364h2v1h-2zM613 364h4v1h-4zM701 364h3v1h-3zM398 365h2v1h-2zM617 365h4v1h-4zM698 365h3v1h-3zM396 366h2v1h-2zM621 366h4v1h-4zM696 366h2v1h-2zM393 367h3v1h-3zM625 367h6v1h-6zM693 367h3v1h-3zM391 368h2v1h-2zM631 368h8v1h-8zM684 368h9v1h-9zM389 369h2v1h-2zM639 369h8v1h-8zM672 369h12v1h-12zM386 370h3v1h-3zM647 370h8v1h-8zM664 370h8v1h-8zM382 371h4v1h-4zM655 371h9v1h-9zM378 372h4v1h-4zM374 373h4v1h-4zM369 374h5v1h-5zM364 375h5v1h-5zM358 376h6v1h-6zM352 377h6v1h-6zM344 378h8v1h-8zM320 379h24v1h-24zM312 380h8v1h-8zM306 381h6v1h-6zM302 382h4v1h-4zM298 383h4v1h-4zM294 384h4v1h-4zM290 385h4v1h-4zM288 386h2v1h-2zM286 387h2v1h-2zM284 388h2v1h-2zM281 389h3v1h-3zM279 390h2v1h-2zM277 391h2v1h-2zM274 392h3v1h-3zM272 393h2v1h-2zM269 394h3v1h-3zM266 395h3v1h-3zM264 396h2v1h-2zM261 397h3v1h-3zM258 398h3v1h-3zM255 399h3v1h-3zM252 400h3v1h-3zM248 401h4v1h-4zM245 402h3v1h-3zM242 403h3v1h-3zM238 404h4v1h-4zM234 405h4v1h-4zM230 406h4v1h-4zM227 407h3v1h-3zM225 408h2v1h-2zM223 409h2v1h-2zM221 410h2v1h-2zM219 411h2v1h-2zM217 412h2v1h-2zM215 413h2v1h-2zM213 414h2v1h-2zM210 415h3v1h-3zM208 416h2v1h-2zM205 417h3v1h-3zM202 418h3v1h-3zM200 419h2v1h-2zM197 420h3v1h-3zM194 421h3v1h-3zM190 422h4v1h-4zM186 423h4v1h-4zM182 424h4v1h-4zM178 425h4v1h-4zM175 426h3v1h-3zM172 427h3v1h-3zM168 428h4v1h-4zM165 429h3v1h-3zM162 430h3v1h-3zM160 431h2v1h-2zM157 432h3v1h-3zM154 433h3v1h-3zM152 434h2v1h-2zM149 435h3v1h-3zM146 436h3v1h-3zM144 437h2v1h-2zM142 438h2v1h-2zM140 439h2v1h-2zM137 440h3v1h-3zM135 441h2v1h-2zM133 442h2v1h-2zM130 443h3v1h-3zM128 444h2v1h-2zM126 445h2v1h-2zM124 446h2v1h-2zM121 447h3v1h-3zM119 448h2v1h-2zM117 449h2v1h-2zM114 450h3v1h-3zM110 451h4v1h-4zM106 452h4v1h-4zM102 453h4v1h-4zM98 454h4v1h-4zM96 455h2v1h-2zM94 456h2v1h-2zM92 457h2v1h-2zM89 458h3v1h-3zM87 459h2v1h-2zM85 460h2v1h-2zM83 461h2v1h-2zM81 462h2v1h-2zM79 463h2v1h-2zM77 464h2v1h-2zM76 465h1v1h-1zM74 466h2v1h-2zM72 467h2v1h-2zM70 468h2v1h-2zM68 469h2v1h-2zM66 470h2v1h-2zM64 471h2v1h-2zM62 472h2v1h-2zM60 473h2v1h-2zM57 474h3v1h-3zM55 475h2v1h-2zM53 476h2v1h-2zM50 477h3v1h-3zM47 478h3v1h-3zM44 479h3v1h-3zM3 480h8v1h-8zM40 480h4v1h-4zM11 481h16v1h-16zM37 481h3v1h-3zM27 482h10v1h-10z" fill="#3CB371"/>
</g>
<rect x="3" y="83" width="1867" height="1" fill="#FF0000"/>
<rect x="3" y="81" width="5" height="5" fill="#FF0000"/><rect x="4" y="82" width="3" height="3" fill="#FFFFFF"/>
<rect x="1865" y="81" width="5" height="5" fill="#FF0000"/><rect x="1866" y="82" width="3" height="3" fill="#FFFFFF"/>
<rect x="3" y="113" width="1867" height="1" fill="#FF0000"/>
<rect x="3" y="111" width="5" height="5" fill="#FF0000"/><rect x="4" y="112" width="3" height="3" fill="#FFFFFF"/>
<rect x="1865" y="111" width="5" height="5" fill="#FF0000"/><rect x="1866" y="112" width="3" height="3" fill="#FFFFFF"/>
<rect x="3" y="155" width="1867" height="1" fill="#FF0000"/>
<rect x="3" y="153" width="5" height="5" fill="#FF0000"/><rect x="4" y="154" width="3" height="3" fill="#FFFFFF"/>
<rect x="1865" y="153" width="5" height="5" fill="#FF0000"/><rect x="1866" y="154" width="3" height="3" fill="#FFFFFF"/>
<rect x="3" y="180" width="1867" height="1" fill="#FF0000"/>
<rect x="3" y="178" width="5" height="5" fill="#FF0000"/><rect x="4" y="179" width="3" height="3" fill="#FFFFFF"/>
<rect x="1865" y="178" width="5" height="5" fill="#FF0000"/><rect x="1866" y="179" width="3" height="3" fill="#FFFFFF"/>
<g id="hist">
<rect x="2" y="647" width="2" height="41" fill="#FF0000"/>
<rect x="18" y="644" width="2" height="44" fill="#FF0000"/>
<rect x="34" y="644" width="2" height="44" fill="#FF0000"/>
<rect x="50" y="649" width="2" height="39" fill="#FF0000"/>
<rect x="66" y="654" width="2" height="34" fill="#FF0000"/>
<rect x="82" y="665" width="2" height="23" fill="#FF0000"/>
<rect x="98" y="673" width="2" height="15" fill="#FF0000"/>
<rect x="114" y="674" width="2" height="14" fill="#FF0000"/>
<rect x="130" y="675" width="2" height="13" fill="#FF0000"/>
<rect x="146" y="677" width="2" height="11" fill="#FF0000"/>
<rect x="162" y="680" width="2" height="8" fill="#FF0000"/>
<rect x="178" y="678" width="2" height="10" fill="#FF0000"/>
<rect x="194" y="673" width="2" height="15" fill="#FF0000"/>
<rect x="210" y="669" width="2" height="19" fill="#FF0000"/>
<rect x="226" y="668" width="2" height="20" fill="#FF0000"/>
<rect x="242" y="667" width="2" height="21" fill="#FF0000"/>
<rect x="258" y="670" width="2" height="18" fill="#FF0000"/>
<rect x="274" y="678" width="2" height="10" fill="#FF0000"/>
<rect x="290" y="685" width="2" height="3" fill="#FF0000"/>
<rect x="306" y="688" width="2" height="8" fill="#008000"/>
<rect x="322" y="687" width="2" height="1" fill="#FF0000"/>
<rect x="338" y="681" width="2" height="7" fill="#FF0000"/>
<rect x="354" y="679" width="2" height="9" fill="#FF0000"/>
<rect x="370" y="682" width="2" height="6" fill="#FF0000"/>
<rect x="386" y="682" width="2" height="6" fill="#FF0000"/>
<rect x="402" y="682" width="2" height="6" fill="#FF0000"/>
<rect x="418" y="688" width="2" height="10" fill="#008000"/>
<rect x="434" y="688" width="2" height="27" fill="#008000"/>
<rect x="450" y="688" width="2" height="42" fill="#008000"/>
<rect x="466" y="688" width="2" height="54" fill="#008000"/>
<rect x="482" y="688" width="2" height="64" fill="#008000"/>
<rect x="498" y="688" width="2" height="66" fill="#008000"/>
<rect x="514" y="688" width="2" height="71" fill="#008000"/>
<rect x="530" y="688" width="2" height="68" fill="#008000"/>
<rect x="546" y="688" width="2" height="61" fill="#008000"/>
<rect x="562" y="688" width="2" height="55" fill="#008000"/>
<rect x="578" y="688" width="2" height="46" fill="#008000"/>
<rect x="594" y="688" width="2" height="39" fill="#008000"/>
<rect x="610" y="688" width="2" height="25" fill="#008000"/>
<rect x="626" y="688" width="2" height="25" fill="#008000"/>
<rect x="642" y="688" width="2" height="24" fill="#008000"/>
<rect x="658" y="688" width="2" height="20" fill="#008000"/>
<rect x="674" y="688" width="2" height="13" fill="#008000"/>
<rect x="690" y="688" width="2" height="6" fill="#008000"/>
<rect x="706" y="686" width="2" height="2" fill="#FF0000"/>
<rect x="722" y="673" width="2" height="15" fill="#FF0000"/>
<rect x="738" y="666" width="2" height="22" fill="#FF0000"/>
<rect x="754" y="661" width="2" height="27" fill="#FF0000"/>
<rect x="770" y="656" width="2" height="32" fill="#FF0000"/>
<rect x="786" y="653" width="2" height="35" fill="#FF0000"/>
<rect x="802" y="661" width="2" height="27" fill="#FF0000"/>
<rect x="818" y="674" width="2" height="14" fill="#FF0000"/>
<rect x="834" y="679" width="2" height="9" fill="#FF0000"/>
<rect x="850" y="684" width="2" height="4" fill="#FF0000"/>
<rect x="866" y="686" width="2" height="2" fill="#FF0000"/>
<rect x="882" y="688" width="2" height="4" fill="#008000"/>
<rect x="898" y="688" width="2" height="7" fill="#008000"/>
<rect x="914" y="688" width="2" height="4" fill="#008000"/>
<rect x="930" y="686" width="2" height="2" fill="#FF0000"/>
<rect x="946" y="681" width="2" height="7" fill="#FF0000"/>
<rect x="962" y="675" width="2" height="13" fill="#FF0000"/>
<rect x="978" y="669" width="2" height="19" fill="#FF0000"/>
<rect x="994" y="669" width="2" height="19" fill="#FF0000"/>
<rect x="1010" y="664" width="2" height="24" fill="#FF0000"/>
<rect x="1026" y="658" width="2" height="30" fill="#FF0000"/>
<rect x="1042" y="656" width="2" height="32" fill="#FF0000"/>
<rect x="1058" y="655" width="2" height="33" fill="#FF0000"/>
<rect x="1074" y="650" width="2" height="38" fill="#FF0000"/>
<rect x="1090" y="645" width="2" height="43" fill="#FF0000"/>
<rect x="1106" y="639" width="2" height="49" fill="#FF0000"/>
<rect x="1122" y="627" width="2" height="61" fill="#FF0000"/>
<rect x="1138" y="623" width="2" height="65" fill="#FF0000"/>
<rect x="1154" y="624" width="2" height="64" fill="#FF0000"/>
<rect x="1170" y="632" width="2" height="56" fill="#FF0000"/>
<rect x="1186" y="649" width="2" height="39" fill="#FF0000"/>
<rect x="1202" y="657" width="2" height="31" fill="#FF0000"/>
<rect x="1218" y="660" width="2" height="28" fill="#FF0000"/>
<rect x="1234" y="664" width="2" height="24" fill="#FF0000"/>
<rect x="1250" y="672" width="2" height="16" fill="#FF0000"/>
<rect x="1266" y="685" width="2" height="3" fill="#FF0000"/>
<rect x="1282" y="688" width="2" height="5" fill="#008000"/>
<rect x="1298" y="688" width="2" height="10" fill="#008000"/>
<rect x="1314" y="688" width="2" height="21" fill="#008000"/>
<rect x="1330" y="688" width="2" height="29" fill="#008000"/>
<rect x="1346" y="688" width="2" height="39" fill="#008000"/>
<rect x="1362" y="688" width="2" height="38" fill="#008000"/>
<rect x="1378" y="688" width="2" height="37" fill="#008000"/>
<rect x="1394" y="688" width="2" height="36" fill="#008000"/>
<rect x="1410" y="688" width="2" height="28" fill="#008000"/>
<rect x="1426" y="688" width="2" height="22" fill="#008000"/>
<rect x="1442" y="688" width="2" height="16" fill="#008000"/>
<rect x="1458" y="688" width="2" height="8" fill="#008000"/>
</g>
<path d="M1234 528h9v1h-9zM1230 529h4v1h-4zM1243 529h10v1h-10zM1226 530h4v1h-4zM1253 530h2v1h-2zM1222 531h4v1h-4zM1255 531h3v1h-3zM1218 532h4v1h-4zM1258 532h3v1h-3zM1216 533h2v1h-2zM1261 533h2v1h-2zM1214 534h2v1h-2zM1263 534h3v1h-3zM1212 535h2v1h-2zM1266 535h3v1h-3zM1209 536h3v1h-3zM1269 536h4v1h-4zM1169 537h4v1h-4zM1207 537h2v1h-2zM1273 537h4v1h-4zM1164 538h5v1h-5zM1173 538h4v1h-4zM1205 538h2v1h-2zM1277 538h4v1h-4zM1158 539h6v1h-6zM1177 539h4v1h-4zM1200 539h5v1h-5zM1281 539h4v1h-4zM1155 540h3v1h-3zM1181 540h4v1h-4zM1192 540h8v1h-8zM1285 540h4v1h-4zM1153 541h2v1h-2zM1185 541h7v1h-7zM1289 541h4v1h-4zM1152 542h1v1h-1zM1293 542h4v1h-4zM1150 543h2v1h-2zM1297 543h3v1h-3zM1148 544h2v1h-2zM1300 544h2v1h-2zM1147 545h1v1h-1zM1302 545h1v1h-1zM1145 546h2v1h-2zM1303 546h2v1h-2zM1144 547h1v1h-1zM1305 547h2v1h-2zM1142 548h2v1h-2zM1307 548h1v1h-1zM1140 549h2v1h-2zM1308 549h2v1h-2zM1139 550h1v1h-1zM1310 550h1v1h-1zM1138 551h1v1h-1zM1311 551h2v1h-2zM1137 552h1v1h-1zM1313 552h2v1h-2zM1136 553h1v1h-1zM1315 553h1v1h-1zM1135 554h1v1h-1zM1316 554h2v1h-2zM1134 555h1v1h-1zM1318 555h2v1h-2zM1133 556h1v1h-1zM1320 556h2v1h-2zM1132 557h1v1h-1zM1322 557h2v1h-2zM1130 558h2v1h-2zM1324 558h2v1h-2zM1129 559h1v1h-1zM1326 559h2v1h-2zM1128 560h1v1h-1zM1328 560h2v1h-2zM1127 561h1v1h-1zM1330 561h2v1h-2zM1126 562h1v1h-1zM1332 562h2v1h-2zM1125 563h1v1h-1zM1334 563h1v1h-1zM353 564h10v1h-10zM1124 564h1v1h-1zM1335 564h2v1h-2zM348 565h5v1h-5zM363 565h41v1h-41zM1123 565h1v1h-1zM1337 565h1v1h-1zM342 566h6v1h-6zM404 566h1v1h-1zM1122 566h1v1h-1zM1338 566h1v1h-1zM252 567h9v1h-9zM338 567h4v1h-4zM405 567h2v1h-2zM1121 567h1v1h-1zM1339 567h2v1h-2zM242 568h10v1h-10zM261 568h4v1h-4zM336 568h2v1h-2zM407 568h1v1h-1zM1120 568h1v1h-1zM1341 568h1v1h-1zM239 569h3v1h-3zM265 569h4v1h-4zM333 569h3v1h-3zM408 569h1v1h-1zM1119 569h1v1h-1zM1342 569h2v1h-2zM236 570h3v1h-3zM269 570h4v1h-4zM330 570h3v1h-3zM409 570h2v1h-2zM1118 570h1v1h-1zM1344 570h1v1h-1zM232 571h4v1h-4zM273 571h5v1h-5zM328 571h2v1h-2zM411 571h1v1h-1zM1117 571h1v1h-1zM1345 571h2v1h-2zM229 572h3v1h-3zM278 572h5v1h-5zM325 572h3v1h-3zM412 572h1v1h-1zM1116 572h1v1h-1zM1347 572h2v1h-2zM225 573h4v1h-4zM283 573h6v1h-6zM323 573h2v1h-2zM413 573h2v1h-2zM1115 573h1v1h-1zM1349 573h3v1h-3zM220 574h5v1h-5zM289 574h4v1h-4zM321 574h2v1h-2zM415 574h1v1h-1zM1115 574h1v1h-1zM1352 574h3v1h-3zM214 575h6v1h-6zM293 575h2v1h-2zM319 575h2v1h-2zM416 575h1v1h-1zM1114 575h1v1h-1zM1355 575h4v1h-4zM210 576h4v1h-4zM295 576h2v1h-2zM317 576h2v1h-2zM417 576h2v1h-2zM1113 576h1v1h-1zM1359 576h3v1h-3zM208 577h2v1h-2zM297 577h2v1h-2zM315 577h2v1h-2zM419 577h1v1h-1zM1112 577h1v1h-1zM1362 577h3v1h-3zM205 578h3v1h-3zM299 578h3v1h-3zM313 578h2v1h-2zM420 578h1v1h-1zM1111 578h1v1h-1zM1365 578h2v1h-2zM202 579h3v1h-3zM302 579h2v1h-2zM311 579h2v1h-2zM421 579h1v1h-1zM1110 579h1v1h-1zM1367 579h3v1h-3zM200 580h2v1h-2zM304 580h2v1h-2zM309 580h2v1h-2zM422 580h1v1h-1zM1109 580h1v1h-1zM1370 580h3v1h-3zM197 581h3v1h-3zM306 581h3v1h-3zM423 581h1v1h-1zM1108 581h1v1h-1zM1373 581h2v1h-2zM194 582h3v1h-3zM424 582h1v1h-1zM1107 582h1v1h-1zM1375 582h3v1h-3zM192 583h2v1h-2zM425 583h1v1h-1zM1106 583h1v1h-1zM1378 583h3v1h-3zM189 584h3v1h-3zM426 584h1v1h-1zM1105 584h1v1h-1zM1381 584h2v1h-2zM186 585h3v1h-3zM427 585h2v1h-2zM1104 585h1v1h-1zM1383 585h3v1h-3zM184 586h2v1h-2zM429 586h1v1h-1zM1103 586h1v1h-1zM1386 586h3v1h-3zM181 587h3v1h-3zM430 587h1v1h-1zM1102 587h1v1h-1zM1389 587h2v1h-2zM1457 587h3v1h-3zM177 588h4v1h-4zM431 588h1v1h-1zM1101 588h1v1h-1zM1391 588h3v1h-3zM1404 588h15v1h-15zM1452 588h5v1h-5zM172 589h5v1h-5zM432 589h1v1h-1zM1100 589h1v1h-1zM1394 589h10v1h-10zM1419 589h16v1h-16zM1446 589h6v1h-6zM166 590h6v1h-6zM433 590h1v1h-1zM1098 590h2v1h-2zM1435 590h11v1h-11zM145 591h21v1h-21zM434 591h1v1h-1zM1097 591h1v1h-1zM140 592h5v1h-5zM435 592h1v1h-1zM1096 592h1v1h-1zM134 593h6v1h-6zM436 593h1v1h-1zM1095 593h1v1h-1zM129 594h5v1h-5zM437 594h1v1h-1zM1094 594h1v1h-1zM124 595h5v1h-5zM438 595h1v1h-1zM1093 595h1v1h-1zM118 596h6v1h-6zM439 596h1v1h-1zM1092 596h1v1h-1zM113 597h5v1h-5zM440 597h1v1h-1zM1091 597h1v1h-1zM65 598h6v1h-6zM108 598h5v1h-5zM441 598h1v1h-1zM1089 598h2v1h-2zM60 599h5v1h-5zM71 599h8v1h-8zM102 599h6v1h-6zM442 599h1v1h-1zM1088 599h1v1h-1zM54 600h6v1h-6zM79 600h23v1h-23zM443 600h2v1h-2zM1086 600h2v1h-2zM50 601h4v1h-4zM445 601h1v1h-1zM1084 601h2v1h-2zM47 602h3v1h-3zM446 602h1v1h-1zM1083 602h1v1h-1zM44 603h3v1h-3zM447 603h1v1h-1zM1081 603h2v1h-2zM40 604h4v1h-4zM448 604h1v1h-1zM1080 604h1v1h-1zM37 605h3v1h-3zM449 605h1v1h-1zM1078 605h2v1h-2zM35 606h2v1h-2zM450 606h1v1h-1zM1076 606h2v1h-2zM33 607h2v1h-2zM451 607h1v1h-1zM1075 607h1v1h-1zM31 608h2v1h-2zM452 608h1v1h-1zM1073 608h2v1h-2zM29 609h2v1h-2zM453 609h1v1h-1zM1072 609h1v1h-1zM27 610h2v1h-2zM454 610h1v1h-1zM1070 610h2v1h-2zM25 611h2v1h-2zM455 611h2v1h-2zM1068 611h2v1h-2zM23 612h2v1h-2zM457 612h1v1h-1zM1067 612h1v1h-1zM21 613h2v1h-2zM458 613h1v1h-1zM1065 613h2v1h-2zM19 614h2v1h-2zM459 614h1v1h-1zM1064 614h1v1h-1zM17 615h2v1h-2zM460 615h1v1h-1zM1062 615h2v1h-2zM16 616h1v1h-1zM461 616h1v1h-1zM1060 616h2v1h-2zM14 617h2v1h-2zM462 617h1v1h-1zM1058 617h2v1h-2zM12 618h2v1h-2zM463 618h2v1h-2zM1056 618h2v1h-2zM11 619h1v1h-1zM465 619h1v1h-1zM1053 619h3v1h-3zM9 620h2v1h-2zM466 620h1v1h-1zM1050 620h3v1h-3zM8 621h1v1h-1zM467 621h1v1h-1zM1048 621h2v1h-2zM6 622h2v1h-2zM468 622h1v1h-1zM1045 622h3v1h-3zM4 623h2v1h-2zM469 623h1v1h-1zM1042 623h3v1h-3zM3 624h1v1h-1zM470 624h1v1h-1zM1040 624h2v1h-2zM471 625h1v1h-1zM1038 625h2v1h-2zM472 626h1v1h-1zM1036 626h2v1h-2zM473 627h1v1h-1zM1033 627h3v1h-3zM474 628h1v1h-1zM1031 628h2v1h-2zM475 629h1v1h-1zM1029 629h2v1h-2zM476 630h1v1h-1zM1027 630h2v1h-2zM477 631h1v1h-1zM1025 631h2v1h-2zM478 632h1v1h-1zM1023 632h2v1h-2zM479 633h1v1h-1zM1021 633h2v1h-2zM480 634h1v1h-1zM1019 634h2v1h-2zM481 635h1v1h-1zM1017 635h2v1h-2zM482 636h1v1h-1zM1015 636h2v1h-2zM483 637h1v1h-1zM1013 637h2v1h-2zM484 638h2v1h-2zM1011 638h2v1h-2zM486 639h1v1h-1zM1009 639h2v1h-2zM487 640h2v1h-2zM1007 640h2v1h-2zM489 641h2v1h-2zM1005 641h2v1h-2zM491 642h1v1h-1zM1003 642h2v1h-2zM492 643h2v1h-2zM1001 643h2v1h-2zM494 644h1v1h-1zM999 644h2v1h-2zM495 645h2v1h-2zM997 645h2v1h-2zM497 646h2v1h-2zM992 646h5v1h-5zM499 647h1v1h-1zM984 647h8v1h-8zM500 648h1v1h-1zM978 648h6v1h-6zM501 649h1v1h-1zM976 649h2v1h-2zM502 650h1v1h-1zM973 650h3v1h-3zM503 651h1v1h-1zM970 651h3v1h-3zM504 652h1v1h-1zM968 652h2v1h-2zM505 653h1v1h-1zM965 653h3v1h-3zM506 654h1v1h-1zM962 654h3v1h-3zM507 655h2v1h-2zM960 655h2v1h-2zM509 656h1v1h-1zM958 656h2v1h-2zM510 657h1v1h-1zM956 657h2v1h-2zM511 658h1v1h-1zM953 658h3v1h-3zM512 659h1v1h-1zM786 659h9v1h-9zM951 659h2v1h-2zM513 660h1v1h-1zM784 660h2v1h-2zM795 660h10v1h-10zM949 660h2v1h-2zM514 661h1v1h-1zM782 661h2v1h-2zM805 661h3v1h-3zM945 661h4v1h-4zM515 662h1v1h-1zM780 662h2v1h-2zM808 662h3v1h-3zM940 662h5v1h-5zM516 663h2v1h-2zM777 663h3v1h-3zM811 663h4v1h-4zM934 663h6v1h-6zM518 664h2v1h-2zM775 664h2v1h-2zM815 664h3v1h-3zM929 664h5v1h-5zM520 665h2v1h-2zM773 665h2v1h-2zM818 665h9v1h-9zM860 665h10v1h-10zM924 665h5v1h-5zM522 666h1v1h-1zM770 666h3v1h-3zM827 666h33v1h-33zM870 666h5v1h-5zM918 666h6v1h-6zM523 667h2v1h-2zM768 667h2v1h-2zM875 667h6v1h-6zM912 667h6v1h-6zM525 668h2v1h-2zM766 668h2v1h-2zM881 668h10v1h-10zM904 668h8v1h-8zM527 669h2v1h-2zM764 669h2v1h-2zM891 669h13v1h-13zM529 670h2v1h-2zM761 670h3v1h-3zM531 671h2v1h-2zM759 671h2v1h-2zM533 672h2v1h-2zM757 672h2v1h-2zM535 673h2v1h-2zM754 673h3v1h-3zM537 674h2v1h-2zM752 674h2v1h-2zM539 675h3v1h-3zM749 675h3v1h-3zM542 676h2v1h-2zM746 676h3v1h-3zM544 677h2v1h-2zM744 677h2v1h-2zM546 678h3v1h-3zM741 678h3v1h-3zM549 679h2v1h-2zM738 679h3v1h-3zM551 680h2v1h-2zM736 680h2v1h-2zM553 681h2v1h-2zM734 681h2v1h-2zM555 682h3v1h-3zM732 682h2v1h-2zM558 683h2v1h-2zM729 683h3v1h-3zM560 684h2v1h-2zM727 684h2v1h-2zM562 685h3v1h-3zM725 685h2v1h-2zM565 686h4v1h-4zM723 686h2v1h-2zM569 687h4v1h-4zM721 687h2v1h-2zM573 688h4v1h-4zM720 688h1v1h-1zM577 689h4v1h-4zM718 689h2v1h-2zM581 690h4v1h-4zM717 690h1v1h-1zM585 691h4v1h-4zM608 691h5v1h-5zM716 691h1v1h-1zM589 692h4v1h-4zM600 692h8v1h-8zM613 692h2v1h-2zM714 692h2v1h-2zM593 693h7v1h-7zM615 693h2v1h-2zM713 693h1v1h-1zM617 694h2v1h-2zM711 694h2v1h-2zM619 695h3v1h-3zM710 695h1v1h-1zM622 696h2v1h-2zM708 696h2v1h-2zM624 697h2v1h-2zM705 697h3v1h-3zM626 698h3v1h-3zM700 698h5v1h-5zM629 699h2v1h-2zM694 699h6v1h-6zM631 700h3v1h-3zM690 700h4v1h-4zM634 701h3v1h-3zM686 701h4v1h-4zM637 702h2v1h-2zM682 702h4v1h-4zM639 703h3v1h-3zM678 703h4v1h-4zM642 704h5v1h-5zM672 704h6v1h-6zM647 705h8v1h-8zM664 705h8v1h-8zM655 706h9v1h-9z" fill="#0000FF"/>
<polyline points="3.5,656.5 19.5,648.4 35.5,640.4 51.5,631.7 67.5,624.6 83.5,617.2 99.5,612.6 115.5,608.3 131.5,604.2 147.5,600.4 163.5,598.0 179.5,596.3 195.5,593.6 211.5,591.5 227.5,588.3 243.5,584.0 259.5,581.2 275.5,579.0 291.5,576.9 307.5,576.4 323.5,574.4 339.5,572.4 355.5,571.1 371.5,570.2 387.5,569.9 403.5,569.9 419.5,570.2 435.5,572.2 451.5,575.3 467.5,580.3 483.5,587.9 499.5,597.1 515.5,608.1 531.5,620.7 547.5,633.0 563.5,645.2 579.5,656.1 595.5,665.4 611.5,672.9 627.5,679.6 643.5,685.9 659.5,690.6 675.5,695.6 691.5,697.8 707.5,697.8 723.5,697.8 739.5,696.1 755.5,693.9 771.5,691.1 787.5,686.4 803.5,681.7 819.5,676.3 835.5,672.1 851.5,669.4 867.5,667.1 883.5,665.3 899.5,664.9 915.5,665.3 931.5,665.8 947.5,665.8 963.5,664.6 979.5,663.2 995.5,660.4 1011.5,657.3 1027.5,653.6 1043.5,648.9 1059.5,643.1 1075.5,636.3 1091.5,629.0 1107.5,621.0 1123.5,611.0 1139.5,600.1 1155.5,589.1 1171.5,579.7 1187.5,571.0 1203.5,562.2 1219.5,554.5 1235.5,547.1 1251.5,539.9 1267.5,537.3 1283.5,536.2 1299.5,536.2 1315.5,538.2 1331.5,539.9 1347.5,544.2 1363.5,549.7 1379.5,555.7 1395.5,562.4 1411.5,567.5 1427.5,573.9 1443.5,578.5 1459.5,581.9" fill="none" stroke="#FF0000" stroke-width="2.2" stroke-linejoin="round"/>
<rect x="0" y="0" width="2" height="791" fill="#FFFFF0"/>
<rect x="2" y="2" width="1" height="512" fill="#000"/>
<rect x="2" y="2" width="1869" height="1" fill="#000"/>
<rect x="1870" y="2" width="1" height="512" fill="#000"/>
<rect x="2" y="513" width="1869" height="1" fill="#000"/>
<rect x="2" y="515" width="1" height="256" fill="#000"/>
<rect x="2" y="515" width="1869" height="1" fill="#000"/>
<rect x="1870" y="515" width="1" height="256" fill="#000"/>
<rect x="2" y="770" width="1870" height="1" fill="#000"/>
<rect x="1871" y="15" width="2" height="1" fill="#000"/>
<rect x="1871" y="48" width="2" height="1" fill="#000"/>
<rect x="1871" y="81" width="2" height="1" fill="#000"/>
<rect x="1871" y="114" width="2" height="1" fill="#000"/>
<rect x="1871" y="147" width="2" height="1" fill="#000"/>
<rect x="1871" y="180" width="2" height="1" fill="#000"/>
<rect x="1871" y="213" width="2" height="1" fill="#000"/>
<rect x="1871" y="246" width="2" height="1" fill="#000"/>
<rect x="1871" y="279" width="2" height="1" fill="#000"/>
<rect x="1871" y="312" width="2" height="1" fill="#000"/>
<rect x="1871" y="345" width="2" height="1" fill="#000"/>
<rect x="1871" y="378" width="2" height="1" fill="#000"/>
<rect x="1871" y="411" width="2" height="1" fill="#000"/>
<rect x="1871" y="444" width="2" height="1" fill="#000"/>
<rect x="1871" y="477" width="2" height="1" fill="#000"/>
<rect x="1871" y="510" width="2" height="1" fill="#000"/>
<rect x="1871" y="517" width="2" height="1" fill="#000"/>
<rect x="1871" y="688" width="2" height="1" fill="#000"/>
<rect x="3" y="771" width="1" height="3" fill="#000"/>
<rect x="67" y="771" width="1" height="3" fill="#000"/>
<rect x="131" y="771" width="1" height="3" fill="#000"/>
<rect x="195" y="771" width="1" height="3" fill="#000"/>
<rect x="259" y="771" width="1" height="3" fill="#000"/>
<rect x="323" y="771" width="1" height="3" fill="#000"/>
<rect x="387" y="771" width="1" height="3" fill="#000"/>
<rect x="451" y="771" width="1" height="3" fill="#000"/>
<rect x="515" y="771" width="1" height="3" fill="#000"/>
<rect x="579" y="771" width="1" height="3" fill="#000"/>
<rect x="643" y="771" width="1" height="3" fill="#000"/>
<rect x="707" y="771" width="1" height="3" fill="#000"/>
<rect x="771" y="771" width="1" height="3" fill="#000"/>
<rect x="835" y="771" width="1" height="3" fill="#000"/>
<rect x="899" y="771" width="1" height="3" fill="#000"/>
<rect x="963" y="771" width="1" height="3" fill="#000"/>
<rect x="1027" y="771" width="1" height="3" fill="#000"/>
<rect x="1091" y="771" width="1" height="3" fill="#000"/>
<rect x="1155" y="771" width="1" height="3" fill="#000"/>
<rect x="1219" y="771" width="1" height="3" fill="#000"/>
<rect x="1283" y="771" width="1" height="3" fill="#000"/>
<rect x="1347" y="771" width="1" height="3" fill="#000"/>
<rect x="1411" y="771" width="1" height="3" fill="#000"/>
</g>
<text x="1876.5" y="18.8" textLength="32" lengthAdjust="spacingAndGlyphs">115.630</text>
<text x="1876.5" y="51.8" textLength="32" lengthAdjust="spacingAndGlyphs">115.160</text>
<text x="1876.5" y="84.8" textLength="32" lengthAdjust="spacingAndGlyphs">114.690</text>
<text x="1876.5" y="117.8" textLength="32" lengthAdjust="spacingAndGlyphs">114.220</text>
<text x="1876.5" y="150.8" textLength="32" lengthAdjust="spacingAndGlyphs">113.740</text>
<text x="1876.5" y="183.8" textLength="32" lengthAdjust="spacingAndGlyphs">113.270</text>
<text x="1876.5" y="216.8" textLength="32" lengthAdjust="spacingAndGlyphs">112.800</text>
<text x="1876.5" y="249.8" textLength="32" lengthAdjust="spacingAndGlyphs">112.320</text>
<text x="1876.5" y="282.8" textLength="32" lengthAdjust="spacingAndGlyphs">111.850</text>
<text x="1876.5" y="315.8" textLength="32" lengthAdjust="spacingAndGlyphs">111.380</text>
<text x="1876.5" y="348.8" textLength="32" lengthAdjust="spacingAndGlyphs">110.910</text>
<text x="1876.5" y="381.8" textLength="32" lengthAdjust="spacingAndGlyphs">110.430</text>
<text x="1876.5" y="414.8" textLength="32" lengthAdjust="spacingAndGlyphs">109.960</text>
<text x="1876.5" y="447.8" textLength="32" lengthAdjust="spacingAndGlyphs">109.490</text>
<text x="1876.5" y="480.8" textLength="32" lengthAdjust="spacingAndGlyphs">109.020</text>
<text x="1876.5" y="513.8" textLength="32" lengthAdjust="spacingAndGlyphs">108.540</text>
<text x="1874.3" y="525.8" textLength="28" lengthAdjust="spacingAndGlyphs">0.5638</text>
<text x="1874.3" y="691.8" textLength="17.5" lengthAdjust="spacingAndGlyphs">0.00</text>
<text x="1874.3" y="767" textLength="26" lengthAdjust="spacingAndGlyphs">-0.268</text>
<rect x="1872" y="133" width="41" height="11" fill="#000" shape-rendering="crispEdges"/>
<text class="w" x="1876.5" y="142.0" textLength="32" lengthAdjust="spacingAndGlyphs">113.880</text>
<rect x="1872" y="77" width="41" height="11" fill="#FF0000" shape-rendering="crispEdges"/>
<text class="w" x="1876.5" y="86.0" textLength="32" lengthAdjust="spacingAndGlyphs">114.663</text>
<rect x="1872" y="107" width="41" height="11" fill="#FF0000" shape-rendering="crispEdges"/>
<text class="w" x="1876.5" y="116.0" textLength="32" lengthAdjust="spacingAndGlyphs">114.229</text>
<rect x="1872" y="149" width="41" height="11" fill="#FF0000" shape-rendering="crispEdges"/>
<text class="w" x="1876.5" y="158.0" textLength="32" lengthAdjust="spacingAndGlyphs">113.637</text>
<rect x="1872" y="174" width="41" height="11" fill="#FF0000" shape-rendering="crispEdges"/>
<text class="w" x="1876.5" y="183.0" textLength="32" lengthAdjust="spacingAndGlyphs">113.271</text>
<text x="2.3" y="783" textLength="51.4" lengthAdjust="spacingAndGlyphs">24 Sep 2021</text>
<text x="66.3" y="783" textLength="54.8" lengthAdjust="spacingAndGlyphs">26 Sep 22:06</text>
<text x="130.3" y="783" textLength="54.8" lengthAdjust="spacingAndGlyphs">27 Sep 12:00</text>
<text x="194.3" y="783" textLength="54.8" lengthAdjust="spacingAndGlyphs">28 Sep 04:00</text>
<text x="258.3" y="783" textLength="54.8" lengthAdjust="spacingAndGlyphs">28 Sep 20:00</text>
<text x="322.3" y="783" textLength="54.8" lengthAdjust="spacingAndGlyphs">29 Sep 12:00</text>
<text x="386.3" y="783" textLength="54.8" lengthAdjust="spacingAndGlyphs">30 Sep 04:00</text>
<text x="450.3" y="783" textLength="54.8" lengthAdjust="spacingAndGlyphs">30 Sep 20:00</text>
<text x="514.3" y="783" textLength="48.6" lengthAdjust="spacingAndGlyphs">1 Oct 12:00</text>
<text x="578.3" y="783" textLength="48.6" lengthAdjust="spacingAndGlyphs">4 Oct 00:00</text>
<text x="642.3" y="783" textLength="48.6" lengthAdjust="spacingAndGlyphs">4 Oct 16:00</text>
<text x="706.3" y="783" textLength="48.6" lengthAdjust="spacingAndGlyphs">5 Oct 08:00</text>
<text x="770.3" y="783" textLength="48.6" lengthAdjust="spacingAndGlyphs">6 Oct 00:00</text>
<text x="834.3" y="783" textLength="48.6" lengthAdjust="spacingAndGlyphs">6 Oct 16:00</text>
<text x="898.3" y="783" textLength="48.6" lengthAdjust="spacingAndGlyphs">7 Oct 08:00</text>
<text x="962.3" y="783" textLength="48.6" lengthAdjust="spacingAndGlyphs">8 Oct 00:00</text>
<text x="1026.3" y="783" textLength="48.6" lengthAdjust="spacingAndGlyphs">8 Oct 16:00</text>
<text x="1090.3" y="783" textLength="53.8" lengthAdjust="spacingAndGlyphs">11 Oct 04:00</text>
<text x="1154.3" y="783" textLength="53.8" lengthAdjust="spacingAndGlyphs">11 Oct 20:00</text>
<text x="1218.3" y="783" textLength="53.8" lengthAdjust="spacingAndGlyphs">12 Oct 12:00</text>
<text x="1282.3" y="783" textLength="53.8" lengthAdjust="spacingAndGlyphs">13 Oct 04:00</text>
<text x="1346.3" y="783" textLength="53.8" lengthAdjust="spacingAndGlyphs">13 Oct 20:00</text>
<text x="1410.3" y="783" textLength="53.8" lengthAdjust="spacingAndGlyphs">14 Oct 12:00</text>
<text class="t" x="7.3" y="14.2" textLength="198" lengthAdjust="spacingAndGlyphs" xml:space="preserve">USDJPY,H4  113.724 113.915 113.708 113.880</text>
<text class="t" x="7.3" y="528" textLength="192.5" lengthAdjust="spacingAndGlyphs">MACD(12,26,9) 0.3308 0.3486 0.0000 -0.0232</text>
</svg></body></html>
